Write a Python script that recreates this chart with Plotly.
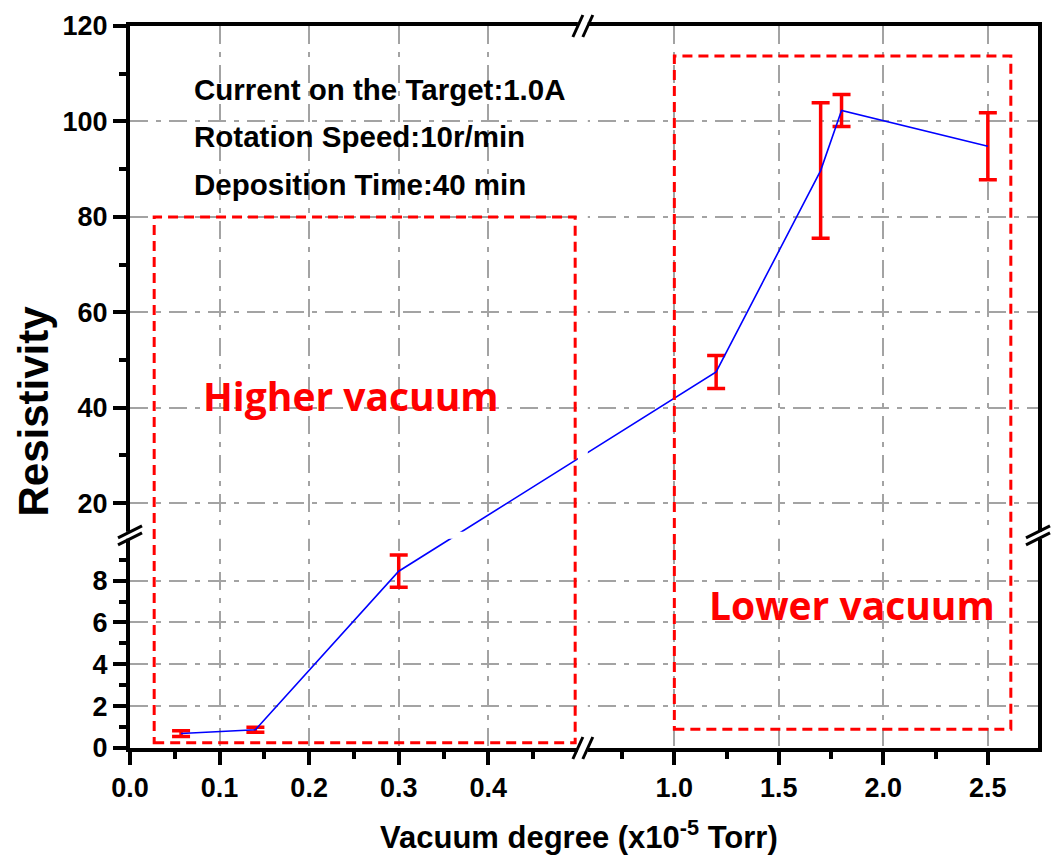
import plotly.graph_objects as go

# ---- measurements -------------------------------------------------------
vacuum = [0.057, 0.14, 0.30, 1.20, 1.70, 1.80, 2.50]          # x10^-5 Torr
resistivity = [0.69, 0.87, 8.45, 47.5, 89.7, 102.3, 94.8]
resistivity_err = [0.14, 0.12, 0.77, 3.45, 14.2, 3.35, 7.0]

# ---- ticks --------------------------------------------------------------
x_major = [0.0, 0.1, 0.2, 0.3, 0.4, 1.0, 1.5, 2.0, 2.5]
x_major_text = ["0.0", "0.1", "0.2", "0.3", "0.4", "1.0", "1.5", "2.0", "2.5"]
x_minor = [0.05, 0.15, 0.25, 0.35, 0.45, 0.75, 1.25, 1.75, 2.25]
y_major = [0, 2, 4, 6, 8, 20, 40, 60, 80, 100, 120]
y_major_text = ["0", "2", "4", "6", "8", "20", "40", "60", "80", "100", "120"]
y_minor = [1, 3, 5, 7, 9, 30, 50, 70, 90, 110]

# ---- region boxes (data units) -----------------------------------------
higher_box = (0.027, 0.497, 0.25, 80.0)
lower_box = (1.0, 2.61, 0.9, 113.7)

# ---- broken axis scales: pieces of (low, high, axis units per data unit) --
X_PIECES = [(0.0, 0.5, 900.0), (0.586, 2.74, 210.0)]
X_GAP = 10.0
Y_PIECES = [(0.0, 10.0, 21.0), (14.0, 120.0, 4.79)]
Y_GAP = 7.0


def make_scale(pieces, gap):
    offsets, pos = [], 0.0
    for lo, hi, k in pieces:
        offsets.append(pos)
        pos += (hi - lo) * k + gap
    total = pos - gap

    def f(v):
        for (lo, hi, k), off in zip(pieces, offsets):
            if v <= hi:
                return off + (v - lo) * k
        lo, hi, k = pieces[-1]
        return offsets[-1] + (v - lo) * k

    gaps = [(offsets[i] + (pieces[i][1] - pieces[i][0]) * pieces[i][2], offsets[i + 1])
            for i in range(len(pieces) - 1)]
    return f, total, gaps


xs, x_total, x_gaps = make_scale(X_PIECES, X_GAP)
ys, y_total, y_gaps = make_scale(Y_PIECES, Y_GAP)

u = [xs(v) for v in vacuum]
v = [ys(r) for r in resistivity]
err_up = [ys(r + e) - ys(r) for r, e in zip(resistivity, resistivity_err)]
err_dn = [ys(r) - ys(r - e) for r, e in zip(resistivity, resistivity_err)]

BOLD = "Liberation Sans"

fig = go.Figure()

# error bars
fig.add_trace(go.Scatter(
    x=u, y=v, mode="markers",
    marker=dict(size=1, color="rgba(0,0,0,0)"),
    error_y=dict(type="data", symmetric=False, array=err_up, arrayminus=err_dn,
                 color="#ff0000", thickness=3.5, width=9),
    showlegend=False, hoverinfo="skip",
))
# connecting line
fig.add_trace(go.Scatter(
    x=u, y=v, mode="lines",
    line=dict(color="#0000ff", width=1.6),
    showlegend=False,
))

grid = dict(showgrid=True, gridcolor="#a3a3a3", gridwidth=2,
            griddash="18px,8px,5px,8px")

fig.update_xaxes(
    range=[0, x_total], zeroline=False,
    tickmode="array", tickvals=[xs(t) for t in x_major], ticktext=x_major_text,
    ticks="outside", ticklen=13, tickwidth=3.5, tickcolor="black",
    minor=dict(tickmode="array", tickvals=[xs(t) for t in x_minor],
               ticks="outside", ticklen=7, tickwidth=3.5, tickcolor="black",
               showgrid=False),
    showline=True, linecolor="black", linewidth=4, mirror=True,
    tickfont=dict(family=BOLD, size=27, color="black", weight="bold"),
    **grid,
)
fig.update_yaxes(
    range=[0, y_total], zeroline=False,
    tickmode="array", tickvals=[ys(t) for t in y_major], ticktext=y_major_text,
    ticks="outside", ticklen=13, tickwidth=3.5, tickcolor="black",
    minor=dict(tickmode="array", tickvals=[ys(t) for t in y_minor],
               ticks="outside", ticklen=7, tickwidth=3.5, tickcolor="black",
               showgrid=False),
    showline=True, linecolor="black", linewidth=4, mirror=True,
    tickfont=dict(family=BOLD, size=27, color="black", weight="bold"),
    **grid,
)

shapes = []
# blank bands through the breaks
for g0, g1 in x_gaps:
    shapes.append(dict(type="rect", layer="above", xref="x", yref="paper",
                       x0=g0, x1=g1, y0=-0.012, y1=1.012,
                       fillcolor="white", line=dict(width=0)))
for g0, g1 in y_gaps:
    shapes.append(dict(type="rect", layer="above", xref="paper", yref="y",
                       x0=-0.012, x1=1.012, y0=g0, y1=g1,
                       fillcolor="white", line=dict(width=0)))

# break marks
for g0, g1 in x_gaps:
    for edge in (g0, g1):
        for side in (0, 1):
            shapes.append(dict(type="line", layer="above",
                               xref="x", xsizemode="pixel", xanchor=edge, x0=-5, x1=5,
                               yref="paper", ysizemode="pixel", yanchor=side, y0=-11, y1=11,
                               line=dict(color="black", width=3)))
for g0, g1 in y_gaps:
    for edge in (g0, g1):
        for side in (0, 1):
            shapes.append(dict(type="line", layer="above",
                               xref="paper", xsizemode="pixel", xanchor=side, x0=-12, x1=12,
                               yref="y", ysizemode="pixel", yanchor=edge, y0=-6, y1=6,
                               line=dict(color="black", width=3)))

# dashed region boxes
for bx0, bx1, by0, by1 in (higher_box, lower_box):
    shapes.append(dict(type="rect", layer="above", xref="x", yref="y",
                       x0=xs(bx0), x1=xs(bx1), y0=ys(by0), y1=ys(by1),
                       line=dict(color="#ff0000", width=3, dash="10px,6px"),
                       fillcolor="rgba(0,0,0,0)"))

annotations = []
notes = ["Current on the Target:1.0A", "Rotation Speed:10r/min", "Deposition Time:40 min"]
for i, t in enumerate(notes):
    annotations.append(dict(text=t, xref="paper", yref="paper",
                            x=0.068, y=0.912 - i * 0.0655,
                            xanchor="left", yanchor="middle", showarrow=False,
                            font=dict(family=BOLD, size=29.5, color="black", weight="bold")))
annotations.append(dict(text="Higher vacuum", xref="paper", yref="paper",
                        x=0.243, y=0.488, xanchor="center", yanchor="middle",
                        showarrow=False,
                        font=dict(family="Open Sans", size=39, color="#ff0000", weight="bold")))
annotations.append(dict(text="Lower vacuum", xref="paper", yref="paper",
                        x=0.795, y=0.199, xanchor="center", yanchor="middle",
                        showarrow=False,
                        font=dict(family="Open Sans", size=39, color="#ff0000", weight="bold")))
annotations.append(dict(text="Resistivity", xref="paper", yref="paper",
                        x=0, xshift=-96, y=0.466, xanchor="center", yanchor="middle",
                        textangle=-90, showarrow=False,
                        font=dict(family=BOLD, size=42, color="black", weight="bold")))
annotations.append(dict(text="Vacuum degree (x10<sup>-5</sup> Torr)", xref="paper", yref="paper",
                        x=0.4945, y=-0.1503, xanchor="center", yanchor="bottom",
                        showarrow=False,
                        font=dict(family=BOLD, size=31, color="black", weight="bold")))

fig.update_layout(
    width=1053, height=859,
    margin=dict(l=130, r=11, t=23, b=111),
    paper_bgcolor="white", plot_bgcolor="white",
    shapes=shapes, annotations=annotations,
    showlegend=False,
)

fig.write_html("out.html")
